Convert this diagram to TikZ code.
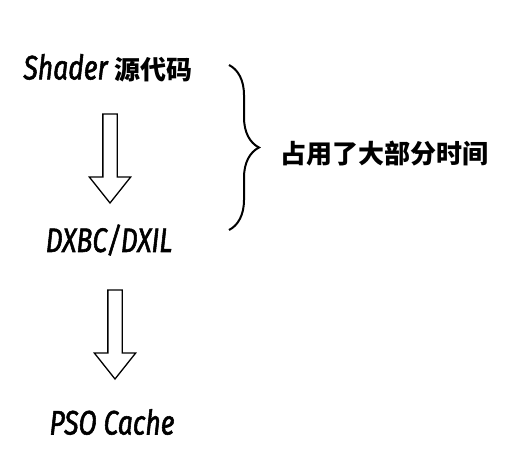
\documentclass[tikz,border=0pt]{standalone}
\usepackage{fontspec}
\newfontfamily\latinfont{Fira Sans}[FakeStretch=0.78, FakeBold=1.6]
\newfontfamily\cjkfont{Noto Sans CJK SC}
\usetikzlibrary{positioning, shapes.arrows, decorations.pathreplacing}

\begin{document}
\begin{tikzpicture}[x=1pt, y=-1pt,
    % Styles
    stagetext/.style={font=\fontsize{34}{38}\selectfont\latinfont\itshape, inner sep=0pt},
    flowarrow/.style={draw, line width=1.3pt, single arrow, rotate=-90, inner sep=6.5pt,
        minimum height=89pt, minimum width=40pt, single arrow head extend=13.5pt, single arrow tip angle=77},
    timebrace/.style={decorate, decoration={brace, amplitude=30pt}, line width=2pt}
]
    \useasboundingbox (0,0) rectangle (530,476);

    % Stages of the shader pipeline
    \node[stagetext] (src) at (108,68) {Shader {\cjkfont\bfseries\fontsize{26}{30}\selectfont 源代码}};
    \node[flowarrow] (arr1) at (110,154) {};
    \node[stagetext] (dxbc) at (109,240) {DXBC/DXIL};
    \node[flowarrow] (arr2) at (115,330) {};
    \node[stagetext] (pso) at (112,422) {PSO Cache};

    % Brace over the first step
    \coordinate (bracetop) at (229,65);
    \coordinate (bracebot) at (229,230);
    \draw[timebrace] (bracetop) -- (bracebot);
    \node[font=\cjkfont\bfseries\fontsize{26}{30}\selectfont, inner sep=0pt] (cost) at (384,154) {占用了大部分时间};
\end{tikzpicture}
\end{document}
